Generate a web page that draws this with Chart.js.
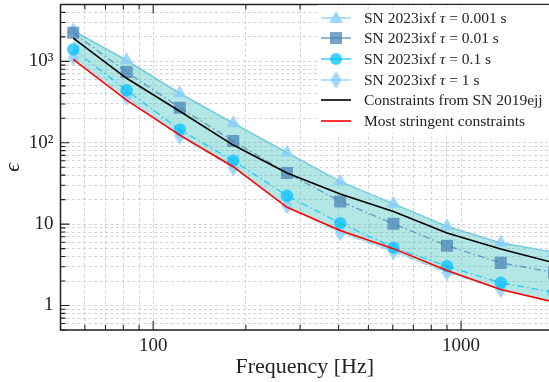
<!DOCTYPE html>
<html>
<head>
<meta charset="utf-8">
<script src="https://cdn.jsdelivr.net/npm/chart.js@4.4.1/dist/chart.umd.min.js"></script>
<style>
  html, body { margin: 0; padding: 0; background: #fff; }
  #wrap { position: relative; width: 549px; height: 382px; overflow: hidden; }
  #legend {
    position: absolute; left: 318px; top: 5px; width: 240px; height: 128px;
    background: rgba(255,255,255,0.92);
    font-family: "Liberation Serif", "DejaVu Serif", serif; font-size: 15.5px; color: #222;
  }
  .row { position: absolute; left: 0; height: 20px; display: flex; align-items: center; }
  .row svg { width: 36px; height: 20px; margin-right: 10px; }
  .row i { font-style: italic; }
</style>
</head>
<body>
<div id="wrap">
  <canvas id="c" width="549" height="382"></canvas>
  <div id="legend"></div>
</div>
<script>
// frequencies [Hz] where the constraints are evaluated
const freq = [55, 82, 122, 182, 272, 405, 603, 900, 1345, 2005];

// SN 2023ixf for different tau
const tau0001 = [2390, 1030, 405, 174, 75.5, 33.4, 17.8, 9.4, 5.9, 4.5];
const tau001 = [2245, 740, 270, 105, 42.6, 19.0, 10.1, 5.44, 3.34, 2.55];
const tau01 = [1400, 441, 145, 60.3, 22.3, 10.3, 5.14, 3.04, 1.90, 1.45];
const tau1 = [1120, 362, 121, 49, 16.8, 7.85, 4.59, 2.54, 1.57, 1.12];

// other curves
const sn2019ejj = [1930, 620, 244, 93.7, 42.6, 23.5, 14.3, 7.78, 4.95, 3.35];
const stringent = [1058, 334, 124, 50.8, 16.1, 8.37, 5.0, 2.69, 1.57, 1.1];

// tick values
const xTicks = [50, 60, 70, 80, 90, 100, 200, 300, 400, 500, 600, 700, 800, 900, 1000];
const xLabels = { 100: '100', 1000: '1000' };
const yTicks = [];
[0.1, 1, 10, 100, 1000].forEach(d => {
    for (let k = 1; k <= 9; k++) {
        const v = +(d * k).toPrecision(3);
        if (v >= 0.5 && v <= 5000) yTicks.push(v);
    }
});
const yLabels = { 1: '1', 10: '10', 100: '10²', 1000: '10³' };

const pts = arr => arr.map((v, i) => ({ x: freq[i], y: v }));

// thin diamond marker, like matplotlib 'd'
function thinDiamond(color) {
    const cv = document.createElement('canvas');
    cv.width = 11; cv.height = 17;
    const g = cv.getContext('2d');
    g.fillStyle = color;
    g.beginPath();
    g.moveTo(5.5, 0); g.lineTo(11, 8.5); g.lineTo(5.5, 17); g.lineTo(0, 8.5);
    g.closePath(); g.fill();
    return cv;
}

const cTri = 'rgba(135,206,250,0.8)';
const cSq = 'rgba(70,130,180,0.72)';
const cCirc = 'rgba(0,191,255,0.72)';
const cDia = 'rgba(135,206,250,0.8)';
const dashDot = [7, 3, 1.5, 3];

function series(label, data, color, style, radius, order) {
    return {
        label: label, data: pts(data), borderColor: color, borderWidth: 1.4,
        borderDash: dashDot, pointStyle: style, pointRadius: radius,
        pointBackgroundColor: color, pointBorderWidth: 0, fill: false, order: order
    };
}

const datasets = [
    // band between tau = 0.001 s and tau = 1 s (index 0, fills to index 4)
    { label: 'band', data: pts(tau0001), borderColor: 'rgba(70,185,195,0.75)', borderWidth: 1.3,
      backgroundColor: 'rgba(64,194,190,0.4)', pointRadius: 0, fill: 4, order: 9 },
    series('SN 2023ixf τ = 0.001 s', tau0001, cTri, 'triangle', 8, 6),
    series('SN 2023ixf τ = 0.01 s', tau001, cSq, 'rect', 8.5, 4),
    series('SN 2023ixf τ = 0.1 s', tau01, cCirc, 'circle', 6.2, 2),
    series('SN 2023ixf τ = 1 s', tau1, cDia, thinDiamond(cDia), 6, 3),
    { label: 'Constraints from SN 2019ejj', data: pts(sn2019ejj), borderColor: '#000',
      borderWidth: 1.6, pointRadius: 0, fill: false, order: 1 },
    { label: 'Most stringent constraints', data: pts(stringent), borderColor: '#ff0000',
      borderWidth: 1.6, pointRadius: 0, fill: false, order: 0 }
];

const serif = '"Liberation Serif", "DejaVu Serif", serif';

// frame and inward ticks, matplotlib style
const framePlugin = {
    id: 'frame',
    afterDatasetsDraw(chart) {
        const { ctx, chartArea: a, scales } = chart;
        ctx.save();
        ctx.strokeStyle = '#222';
        ctx.lineWidth = 1.5;
        ctx.beginPath();
        ctx.moveTo(a.left, a.top); ctx.lineTo(a.right + 10, a.top);
        ctx.moveTo(a.left, a.top); ctx.lineTo(a.left, a.bottom);
        ctx.lineTo(a.right + 10, a.bottom);
        ctx.stroke();
        ctx.lineWidth = 1.1;
        ctx.beginPath();
        scales.x.ticks.forEach(t => {
            const px = scales.x.getPixelForValue(t.value);
            const len = xLabels[t.value] ? 9 : 5;
            ctx.moveTo(px, a.bottom); ctx.lineTo(px, a.bottom - len);
            ctx.moveTo(px, a.top); ctx.lineTo(px, a.top + len);
        });
        scales.y.ticks.forEach(t => {
            const py = scales.y.getPixelForValue(t.value);
            const len = yLabels[t.value] ? 9 : 5;
            ctx.moveTo(a.left, py); ctx.lineTo(a.left + len, py);
        });
        ctx.stroke();
        ctx.restore();
    }
};

new Chart(document.getElementById('c'), {
    type: 'line',
    data: { datasets: datasets },
    options: {
        responsive: false,
        animation: false,
        devicePixelRatio: 1,
        layout: { autoPadding: false, padding: { top: 4.5, right: 0, left: 0, bottom: 0 } },
        plugins: { legend: { display: false }, tooltip: { enabled: false } },
        elements: { line: { tension: 0 } },
        scales: {
            x: {
                type: 'logarithmic', min: 50, max: 1930,
                afterBuildTicks: s => { s.ticks = xTicks.map(v => ({ value: v })); },
                afterFit: s => { s.height = 52; s.paddingLeft = 0; s.paddingRight = 0; },
                grid: { color: '#cfcfcf', lineWidth: 0.9, drawTicks: false },
                border: { display: false, dash: [3, 2.5] },
                ticks: {
                    autoSkip: false, maxRotation: 0, padding: 5, color: '#222',
                    font: { family: serif, size: 19 },
                    callback: v => xLabels[v] || ''
                },
                title: { display: true, text: 'Frequency [Hz]', color: '#222',
                         font: { family: serif, size: 22 }, padding: { top: 0, bottom: 2 } }
            },
            y: {
                type: 'logarithmic', min: 0.5, max: 5000,
                afterBuildTicks: s => { s.ticks = yTicks.map(v => ({ value: v })); },
                afterFit: s => { s.width = 60.5; s.paddingTop = 0; s.paddingBottom = 0; },
                grid: { color: '#cfcfcf', lineWidth: 0.9, drawTicks: false },
                border: { display: false, dash: [3, 2.5] },
                ticks: {
                    autoSkip: false, padding: 7, color: '#222',
                    font: { family: serif, size: 19 },
                    callback: v => yLabels[v] || ''
                },
                title: { display: true, text: 'ϵ', color: '#222',
                         font: { family: serif, size: 22, style: 'italic' }, padding: { top: 0, bottom: 0 } }
            }
        }
    },
    plugins: [framePlugin]
});

// legend box in the upper right corner
const legendItems = [
    { text: 'SN 2023ixf <i>τ</i> = 0.001 s', line: cTri, mark: `<polygon points="18,3 25,15 11,15" fill="${cTri}"/>` },
    { text: 'SN 2023ixf <i>τ</i> = 0.01 s', line: cSq, mark: `<rect x="12" y="4" width="12" height="12" fill="${cSq}"/>` },
    { text: 'SN 2023ixf <i>τ</i> = 0.1 s', line: cCirc, mark: `<circle cx="18" cy="10" r="6" fill="${cCirc}"/>` },
    { text: 'SN 2023ixf <i>τ</i> = 1 s', line: cDia, mark: `<polygon points="18,1.5 23.5,10 18,18.5 12.5,10" fill="${cDia}"/>` },
    { text: 'Constraints from SN 2019ejj', line: '#000', mark: '' },
    { text: 'Most stringent constraints', line: '#ff0000', mark: '' }
];
const leg = document.getElementById('legend');
legendItems.forEach((it, i) => {
    const row = document.createElement('div');
    row.className = 'row';
    row.style.top = (2.5 + i * 20.7) + 'px';
    row.innerHTML = `<svg viewBox="0 0 36 20"><line x1="3" y1="10" x2="33" y2="10" stroke="${it.line}" stroke-width="1.6"/>${it.mark}</svg><span>${it.text}</span>`;
    leg.appendChild(row);
});
</script>
</body>
</html>
